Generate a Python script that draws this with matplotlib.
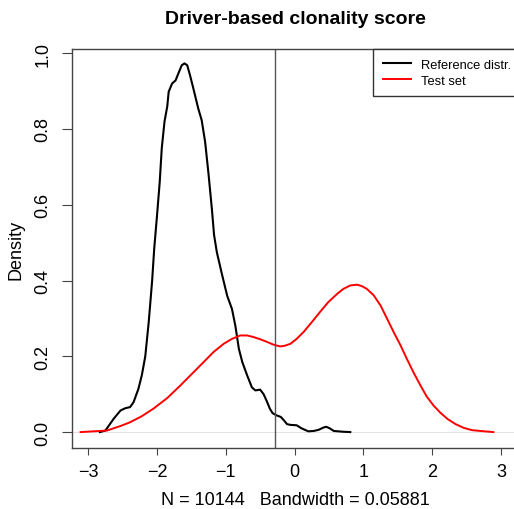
import matplotlib
matplotlib.use("Agg")
import matplotlib.pyplot as plt
import numpy as np

plt.rcParams['font.family'] = ['Liberation Sans', 'DejaVu Sans']

# reference distribution density
ref_x = [-2.83, -2.75, -2.63, -2.53, -2.46, -2.39, -2.34, -2.27, -2.22, -2.17,
         -2.12, -2.07, -2.04, -2.00, -1.96, -1.93, -1.89, -1.85, -1.83, -1.78,
         -1.73, -1.69, -1.64, -1.60, -1.56, -1.52, -1.47, -1.40, -1.35, -1.30,
         -1.25, -1.20, -1.17, -1.13, -1.06, -0.98, -0.91, -0.86, -0.81, -0.76,
         -0.69, -0.62, -0.57, -0.50, -0.45, -0.40, -0.36, -0.32, -0.26, -0.20,
         -0.15, -0.11, -0.06, 0.03, 0.10, 0.20, 0.28, 0.35, 0.42, 0.46,
         0.51, 0.57, 0.70, 0.81]
ref_y = [0.000, 0.004, 0.035, 0.057, 0.063, 0.066, 0.079, 0.114, 0.150, 0.200,
         0.290, 0.400, 0.484, 0.570, 0.660, 0.750, 0.820, 0.860, 0.898, 0.920,
         0.928, 0.946, 0.968, 0.973, 0.968, 0.942, 0.906, 0.854, 0.823, 0.766,
         0.680, 0.585, 0.520, 0.475, 0.420, 0.360, 0.325, 0.280, 0.220, 0.185,
         0.150, 0.118, 0.110, 0.112, 0.100, 0.080, 0.062, 0.050, 0.044, 0.040,
         0.030, 0.021, 0.019, 0.018, 0.010, 0.002, 0.003, 0.006, 0.012, 0.014,
         0.010, 0.003, 0.001, 0.000]

# test set density
test_x = [-3.11, -2.92, -2.73, -2.53, -2.39, -2.22, -2.05, -1.85, -1.66, -1.49,
          -1.32, -1.18, -1.03, -0.91, -0.79, -0.69, -0.60, -0.50, -0.40, -0.31,
          -0.21, -0.14, -0.06, 0.03, 0.13, 0.25, 0.37, 0.49, 0.62, 0.71,
          0.81, 0.91, 0.98, 1.05, 1.15, 1.25, 1.34, 1.44, 1.54, 1.63,
          1.73, 1.83, 1.92, 2.02, 2.12, 2.22, 2.34, 2.46, 2.58, 2.70, 2.89]
test_y = [0.000, 0.002, 0.004, 0.016, 0.026, 0.042, 0.062, 0.090, 0.123, 0.154,
          0.185, 0.211, 0.233, 0.246, 0.255, 0.255, 0.251, 0.245, 0.238, 0.231,
          0.226, 0.228, 0.233, 0.246, 0.264, 0.290, 0.317, 0.343, 0.365, 0.378,
          0.387, 0.389, 0.385, 0.378, 0.361, 0.334, 0.301, 0.264, 0.229, 0.194,
          0.157, 0.123, 0.094, 0.070, 0.051, 0.035, 0.021, 0.011, 0.005, 0.003, 0.000]

cutoff = -0.285
n_obs = 10144
bw = 0.05881
legend_labels = ["Reference distr.", "Test set"]

fig = plt.figure(figsize=(5.14, 5.10), dpi=100)
ax = fig.add_axes([72 / 514, 61 / 510, 460 / 514, 399 / 510])

ax.axhline(0, color='#dddddd', lw=0.6)
ax.plot(ref_x, ref_y, color='black', lw=1.5, solid_joinstyle='round',
        label=legend_labels[0])
ax.plot(test_x, test_y, color='red', lw=1.4, solid_joinstyle='round',
        label=legend_labels[1])
ax.axvline(cutoff, color='#555555', lw=1.0)

# x range so that -3..3 land where the reference has them
x_left = -3.235
x_right = x_left + 460 / 68.8
ax.set_xlim(x_left, x_right)
ax.set_ylim(-0.042, 1.011)
ax.set_xticks([-3, -2, -1, 0, 1, 2, 3])
ax.set_yticks([0.0, 0.2, 0.4, 0.6, 0.8, 1.0])
ax.set_yticklabels(['0.0', '0.2', '0.4', '0.6', '0.8', '1.0'], rotation=90, va='center')
ax.tick_params(axis='both', labelsize=13, direction='out', color='#444444')
ax.tick_params(axis='x', length=5, pad=6)
ax.tick_params(axis='y', length=7, pad=8)
for s in ax.spines.values():
    s.set_color('#444444')
    s.set_linewidth(1.0)

# visible plot centre (picture is cut on the right)
cx = (295 - 72) / 460
ax.set_title("Driver-based clonality score", fontsize=14, fontweight='bold', pad=19, x=cx)
ax.set_xlabel("N = %d   Bandwidth = %.4g" % (n_obs, bw), fontsize=13, labelpad=8, x=cx)
ax.set_ylabel("Density", fontsize=13, labelpad=7)

leg = ax.legend(loc='upper left', bbox_to_anchor=((373 - 72) / 460, 1.0),
                borderaxespad=0, fontsize=9.3, frameon=True, fancybox=False,
                handlelength=2.2, handletextpad=0.75, labelspacing=0.3,
                borderpad=0.75)
leg.get_frame().set_edgecolor('#333333')
leg.get_frame().set_linewidth(1.0)
leg.get_frame().set_alpha(1)

fig.savefig("out.png", dpi=100)
